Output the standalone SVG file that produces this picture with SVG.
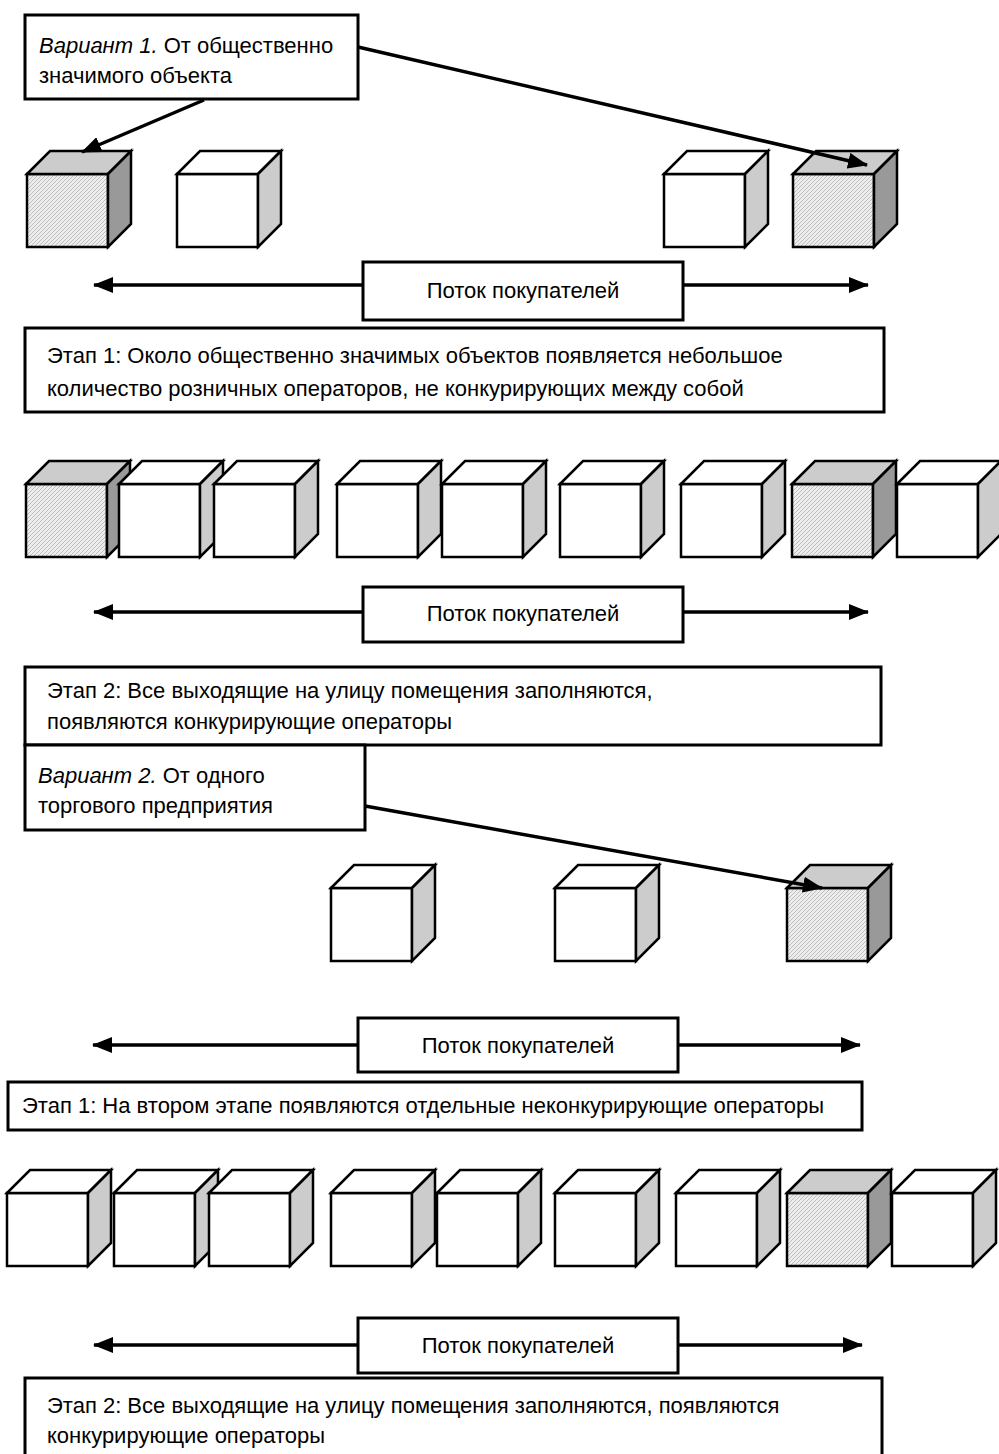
<svg xmlns="http://www.w3.org/2000/svg" width="999" height="1454" viewBox="0 0 999 1454">
<style>
.box{fill:#fff;stroke:#000;stroke-width:3}
.t{font-family:"Liberation Sans",Arial,sans-serif;font-size:22px;fill:#000}
.i{font-style:italic}
.e{stroke:#000;stroke-width:2.5;stroke-linejoin:miter}
.con{stroke:#000;stroke-width:3.5;fill:none}
</style>
<defs>
<pattern id="dots" width="4" height="4" patternUnits="userSpaceOnUse">
<rect width="4" height="4" fill="#ededed"/>
<path d="M0 4 L4 0" stroke="#bdbdbd" stroke-width="1"/>
</pattern>
<marker id="ah" viewBox="0 0 20 16" refX="19" refY="8" markerWidth="20" markerHeight="16" markerUnits="userSpaceOnUse" orient="auto">
<path d="M0 0 L20 8 L0 16 Z" fill="#000"/>
</marker>
<g id="cw">
<rect class="e" x="0" y="0" width="81" height="73" fill="#fff"/>
<polygon class="e" points="0,0 23,-23 104,-23 81,0" fill="#fff"/>
<polygon class="e" points="81,0 104,-23 104,50 81,73" fill="#cccccc"/>
</g>
<g id="cs">
<rect class="e" x="0" y="0" width="81" height="73" fill="url(#dots)"/>
<polygon class="e" points="0,0 23,-23 104,-23 81,0" fill="#cccccc"/>
<polygon class="e" points="81,0 104,-23 104,50 81,73" fill="#999999"/>
</g>
</defs>
<rect width="999" height="1454" fill="#fff"/>

<g id="variant1">
<rect class="box" x="25" y="15" width="333" height="84"/>
<text class="t" x="39" y="53"><tspan class="i">Вариант 1.</tspan> От общественно</text>
<text class="t" x="39" y="83">значимого объекта</text>
</g>

<g id="row1">
<use href="#cs" x="27" y="174"/>
<use href="#cw" x="177" y="174"/>
<use href="#cw" x="664" y="174"/>
<use href="#cs" x="793" y="174"/>
</g>

<g id="flow1">
<rect class="box" x="363" y="262" width="320" height="58"/>
<text class="t" x="523" y="298" text-anchor="middle">Поток покупателей</text>
</g>

<g id="stage1a">
<rect class="box" x="25" y="328" width="859" height="84"/>
<text class="t" x="47" y="363">Этап 1: Около общественно значимых объектов появляется небольшое</text>
<text class="t" x="47" y="396">количество розничных операторов, не конкурирующих между собой</text>
</g>

<g id="row2">
<use href="#cs" x="26" y="484"/>
<use href="#cw" x="119" y="484"/>
<use href="#cw" x="214" y="484"/>
<use href="#cw" x="337" y="484"/>
<use href="#cw" x="442" y="484"/>
<use href="#cw" x="560" y="484"/>
<use href="#cw" x="681" y="484"/>
<use href="#cs" x="792" y="484"/>
<use href="#cw" x="897" y="484"/>
</g>

<g id="flow2">
<rect class="box" x="363" y="587" width="320" height="55"/>
<text class="t" x="523" y="621" text-anchor="middle">Поток покупателей</text>
</g>

<g id="stage2a">
<rect class="box" x="25" y="667" width="856" height="78"/>
<text class="t" x="47" y="698">Этап 2: Все выходящие на улицу помещения заполняются,</text>
<text class="t" x="47" y="729">появляются конкурирующие операторы</text>
</g>

<g id="variant2">
<rect class="box" x="25" y="745" width="340" height="85"/>
<text class="t" x="38" y="783"><tspan class="i">Вариант 2.</tspan> От одного</text>
<text class="t" x="38" y="813">торгового предприятия</text>
</g>

<g id="row3">
<use href="#cw" x="331" y="888"/>
<use href="#cw" x="555" y="888"/>
<use href="#cs" x="787" y="888"/>
</g>

<g id="flow3">
<rect class="box" x="358" y="1018" width="320" height="54"/>
<text class="t" x="518" y="1053" text-anchor="middle">Поток покупателей</text>
</g>

<g id="stage1b">
<rect class="box" x="8" y="1082" width="854" height="48"/>
<text class="t" x="22" y="1113">Этап 1: На втором этапе появляются отдельные неконкурирующие операторы</text>
</g>

<g id="row4">
<use href="#cw" x="7" y="1193"/>
<use href="#cw" x="114" y="1193"/>
<use href="#cw" x="209" y="1193"/>
<use href="#cw" x="331" y="1193"/>
<use href="#cw" x="437" y="1193"/>
<use href="#cw" x="555" y="1193"/>
<use href="#cw" x="676" y="1193"/>
<use href="#cs" x="787" y="1193"/>
<use href="#cw" x="892" y="1193"/>
</g>

<g id="flow4">
<rect class="box" x="358" y="1318" width="320" height="55"/>
<text class="t" x="518" y="1353" text-anchor="middle">Поток покупателей</text>
</g>

<g id="stage2b">
<rect class="box" x="25" y="1378" width="857" height="80"/>
<text class="t" x="47" y="1413">Этап 2: Все выходящие на улицу помещения заполняются, появляются</text>
<text class="t" x="47" y="1443">конкурирующие операторы</text>
</g>

<g id="connectors">
<line class="con" x1="204" y1="100" x2="82" y2="152" marker-end="url(#ah)"/>
<line class="con" x1="358" y1="47" x2="867" y2="165" marker-end="url(#ah)"/>
<line class="con" x1="365" y1="806" x2="822" y2="888" marker-end="url(#ah)"/>
<line class="con" x1="363" y1="285" x2="94" y2="285" marker-end="url(#ah)"/>
<line class="con" x1="683" y1="285" x2="868" y2="285" marker-end="url(#ah)"/>
<line class="con" x1="363" y1="612" x2="94" y2="612" marker-end="url(#ah)"/>
<line class="con" x1="683" y1="612" x2="868" y2="612" marker-end="url(#ah)"/>
<line class="con" x1="358" y1="1045" x2="93" y2="1045" marker-end="url(#ah)"/>
<line class="con" x1="678" y1="1045" x2="860" y2="1045" marker-end="url(#ah)"/>
<line class="con" x1="358" y1="1345" x2="94" y2="1345" marker-end="url(#ah)"/>
<line class="con" x1="678" y1="1345" x2="862" y2="1345" marker-end="url(#ah)"/>
</g>
</svg>
